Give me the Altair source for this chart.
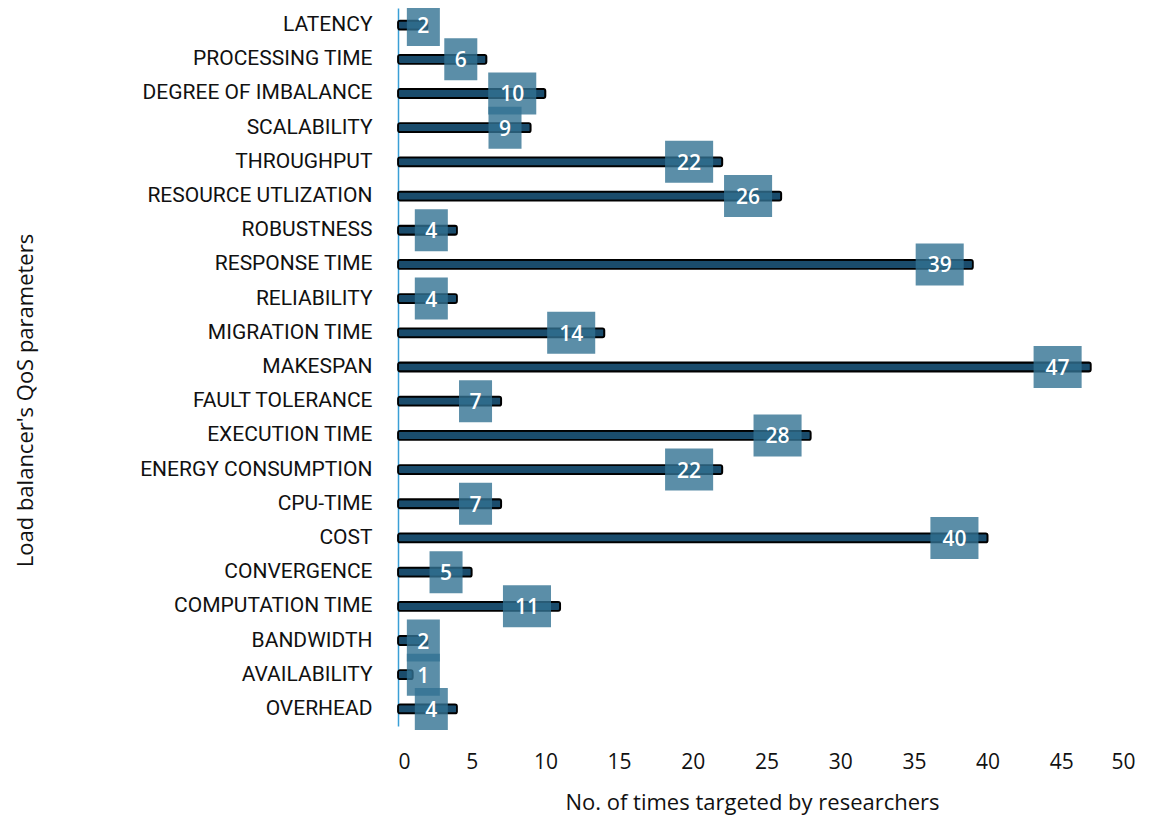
import altair as alt
import pandas as pd

params = ["LATENCY", "PROCESSING TIME", "DEGREE OF IMBALANCE", "SCALABILITY",
          "THROUGHPUT", "RESOURCE UTLIZATION", "ROBUSTNESS", "RESPONSE TIME",
          "RELIABILITY", "MIGRATION TIME", "MAKESPAN", "FAULT TOLERANCE",
          "EXECUTION TIME", "ENERGY CONSUMPTION", "CPU-TIME", "COST",
          "CONVERGENCE", "COMPUTATION TIME", "BANDWIDTH", "AVAILABILITY", "OVERHEAD"]
counts = [2, 6, 10, 9, 22, 26, 4, 39, 4, 14, 47, 7, 28, 22, 7, 40, 5, 11, 2, 1, 4]

df = pd.DataFrame({"param": params, "count": counts})

FONT = "Roboto"
TFONT = "Open Sans"

y = alt.Y("param:N", sort=params, scale=alt.Scale(paddingInner=0, paddingOuter=0),
          axis=alt.Axis(title="Load balancer's QoS parameters", labelFontSize=21,
                        labelColor="#111", labelFont=FONT, labelPadding=26,
                        labelLimit=0, ticks=False, domainColor="#3a9fd6",
                        domainWidth=1.5, titleFontSize=22, titleFont=TFONT,
                        titleFontWeight="normal", titleColor="#111", titleX=-361,
                        titleY=392, titleAlign="center", grid=False))
xscale = alt.Scale(domain=[0, 50])

base = alt.Chart(df).encode(y=y)

bars = base.mark_bar(height=9, color="#1a4c6c", stroke="#000", strokeWidth=1.8,
                     cornerRadius=2).encode(
    x=alt.X("count:Q", scale=xscale,
            axis=alt.Axis(title="No. of times targeted by researchers",
                          values=list(range(0, 51, 5)), labelFontSize=21,
                          labelFont=TFONT, labelColor="#111", labelPadding=25,
                          ticks=False, domain=False, grid=False, titleFontSize=22,
                          titleFont=TFONT, titleFontWeight="normal", titleColor="#111",
                          titlePadding=20, titleX=354, titleAlign="center")),
)

boxed = base.transform_calculate(
    w="datum.count >= 10 ? 3.26 : 2.24"
).transform_calculate(
    r="max(datum.count - 0.62, 0.6 + datum.w)"
).transform_calculate(
    l="datum.r - datum.w", c="datum.r - datum.w / 2"
)

boxes = boxed.mark_bar(height=42, color="#327292", opacity=0.8).encode(
    x=alt.X("l:Q", scale=xscale), x2="r:Q")

labels = boxed.mark_text(color="white", fontSize=21, font=TFONT, fontWeight=600,
                         dy=2).encode(x=alt.X("c:Q", scale=xscale), text="count:Q")

chart = alt.layer(bars, boxes, labels).properties(
    width=737, height=718,
    padding={"left": 390, "top": 0, "right": 10, "bottom": 90},
    autosize="none",
).configure_view(stroke=None)

chart.save("out.html", embed_options={"renderer": "svg", "actions": False})
